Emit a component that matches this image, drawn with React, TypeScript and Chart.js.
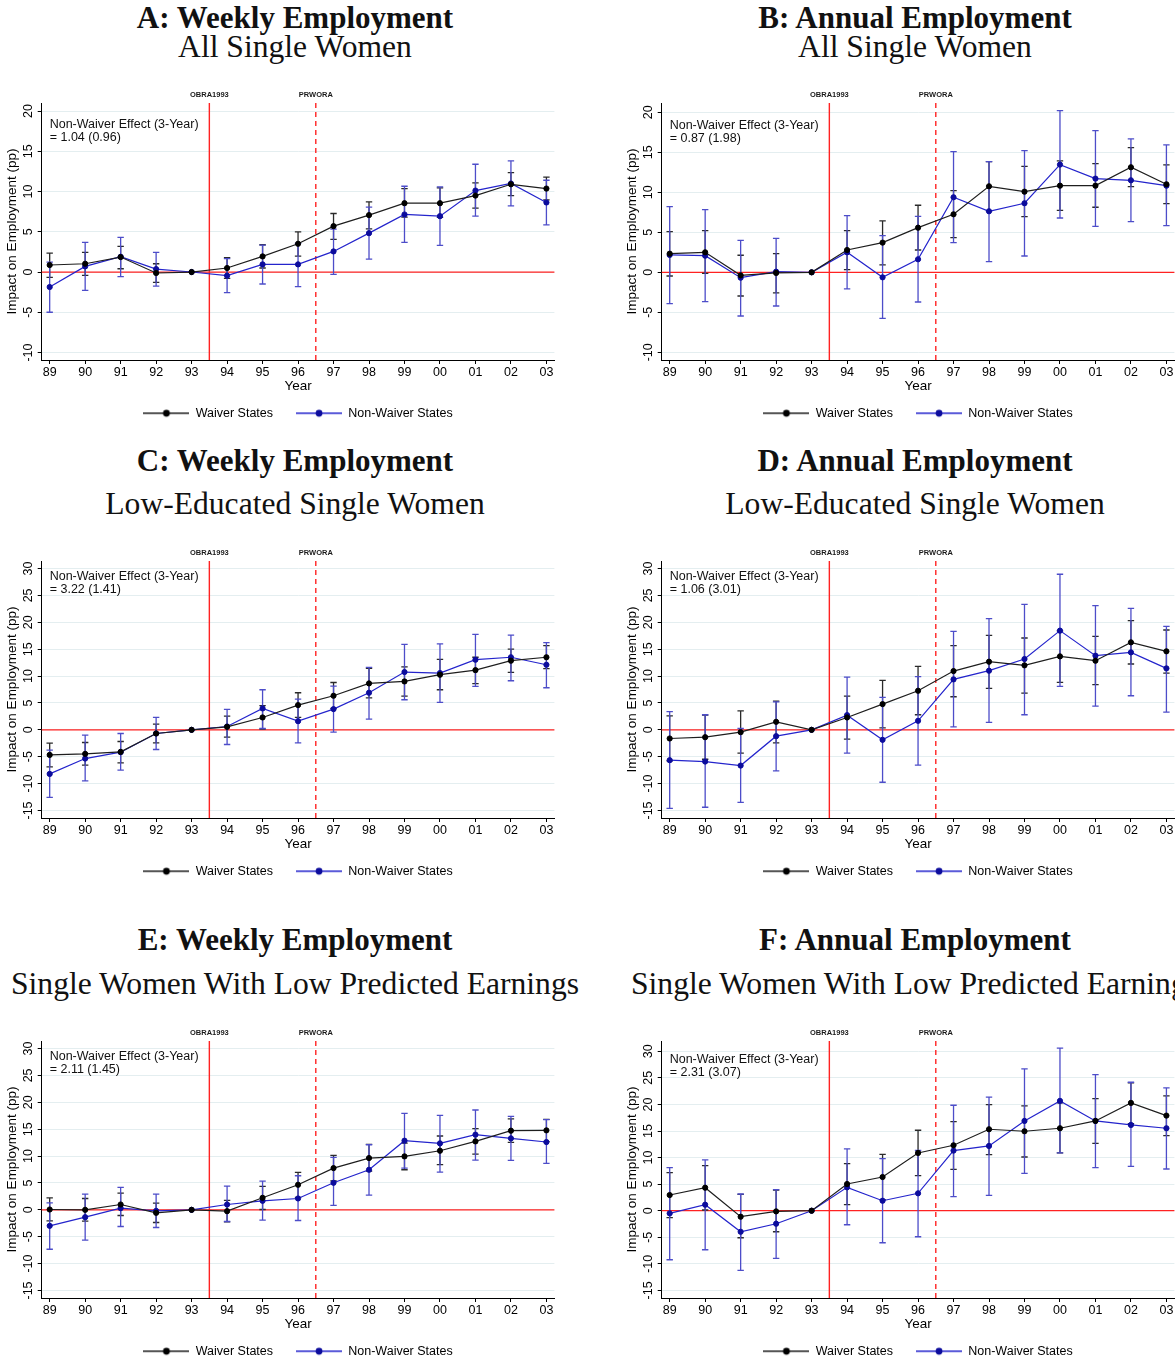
import React, { useEffect, useRef } from 'react';
import { Chart, registerables } from 'chart.js';

Chart.register(...registerables);

// ---------------- data ----------------
const years = ['89', '90', '91', '92', '93', '94', '95', '96', '97', '98', '99', '00', '01', '02', '03'];
const ticksAllWomen = [-10, -5, 0, 5, 10, 15, 20];
const ticksSubgroups = [-15, -10, -5, 0, 5, 10, 15, 20, 25, 30];
const policyNames = ['OBRA1993', 'PRWORA'];
const policyYears = [4.5, 7.5]; // 93.5 and 96.5 on the year index axis
const seriesNames = ['Waiver States', 'Non-Waiver States'];

// Panel A
const aWaiver = [0.87, 1.03, 1.86, -0.12, 0, 0.5, 1.94, 3.51, 5.7, 7.07, 8.55, 8.55, 9.5, 10.9, 10.37];
const aWaiverLo = [-0.66, -0.41, 0.41, -1.28, null, -0.78, 0.5, 1.98, 4.05, 5.37, 6.82, 6.78, 7.93, 9.5, 8.97];
const aWaiverHi = [2.36, 2.44, 3.18, 1.03, null, 1.78, 3.39, 5.0, 7.27, 8.72, 10.37, 10.45, 11.07, 12.36, 11.78];
const aNon = [-1.86, 0.7, 1.9, 0.37, 0, -0.45, 0.95, 0.95, 2.56, 4.83, 7.15, 6.94, 10.12, 11.0, 8.64];
const aNonLo = [-5.0, -2.27, -0.58, -1.74, null, -2.56, -1.49, -1.82, -0.29, 1.61, 3.68, 3.31, 6.94, 8.22, 5.87];
const aNonHi = [1.24, 3.68, 4.3, 2.44, null, 1.66, 3.35, 3.55, 5.33, 8.06, 10.66, 10.58, 13.39, 13.8, 11.4];

// Panel B
const bWaiver = [2.33, 2.5, -0.38, -0.08, 0, 2.79, 3.71, 5.58, 7.25, 10.75, 10.08, 10.83, 10.83, 13.13, 11.0];
const bWaiverLo = [-0.46, -0.13, -2.96, -2.58, null, 0.33, 0.92, 2.79, 4.33, 7.67, 6.96, 7.75, 8.13, 10.71, 8.58];
const bWaiverHi = [5.08, 5.2, 2.13, 2.33, null, 5.2, 6.42, 8.38, 10.2, 13.83, 13.25, 13.92, 13.58, 15.58, 13.42];
const bNon = [2.17, 2.08, -0.67, 0.08, 0, 2.5, -0.63, 1.63, 9.38, 7.63, 8.63, 13.46, 11.71, 11.5, 10.83];
const bNonLo = [-3.92, -3.67, -5.46, -4.21, null, -2.08, -5.75, -3.71, 3.71, 1.33, 2.04, 6.79, 5.75, 6.33, 5.83];
const bNonHi = [8.21, 7.83, 4.0, 4.25, null, 7.08, 4.58, 7.0, 15.08, 13.83, 15.21, 20.21, 17.71, 16.67, 15.92];

// Panel C
const cWaiver = [-4.66, -4.47, -4.1, -0.68, 0, 0.56, 2.3, 4.6, 6.34, 8.63, 9.0, 10.25, 11.1, 12.86, 13.5];
const cWaiverLo = [-6.9, -6.58, -6.15, -2.42, null, -1.37, 0.12, 2.3, 3.98, 5.96, 6.27, 7.45, 8.6, 10.7, 11.37];
const cWaiverHi = [-2.48, -2.36, -2.17, 1.06, null, 2.55, 4.5, 6.9, 8.8, 11.43, 11.7, 13.1, 13.5, 15.0, 15.65];
const cNon = [-8.2, -5.34, -4.16, -0.68, 0, 0.62, 3.98, 1.61, 3.85, 6.9, 10.75, 10.56, 13.04, 13.5, 12.1];
const cNonLo = [-12.55, -9.5, -7.5, -3.66, null, -2.73, 0.25, -2.42, -0.43, 1.99, 5.59, 5.09, 8.07, 9.13, 7.83];
const cNonHi = [-3.79, -1.0, -0.68, 2.3, null, 3.79, 7.45, 5.71, 8.14, 11.6, 15.9, 16.0, 17.76, 17.6, 16.2];

// Panel D
const dWaiver = [-1.61, -1.37, -0.43, 1.49, 0, 2.3, 4.78, 7.27, 10.93, 12.67, 11.99, 13.66, 12.86, 16.27, 14.6];
const dWaiverLo = [-5.78, -5.47, -4.35, -2.42, null, -1.74, 0.37, 2.8, 6.15, 7.7, 6.83, 8.82, 8.39, 12.24, 10.56];
const dWaiverHi = [2.6, 2.73, 3.54, 5.34, null, 6.27, 9.19, 11.8, 15.65, 17.58, 17.08, 18.4, 17.39, 20.3, 18.57];
const dNon = [-5.65, -5.9, -6.65, -1.18, 0, 2.73, -1.86, 1.68, 9.38, 11.0, 13.17, 18.45, 13.79, 14.41, 11.43];
const dNonLo = [-14.6, -14.4, -13.48, -7.64, null, -4.35, -9.75, -6.58, 0.56, 1.37, 2.8, 8.07, 4.41, 6.34, 3.29];
const dNonHi = [3.4, 2.8, 0.25, 5.2, null, 9.81, 6.02, 9.88, 18.3, 20.68, 23.35, 28.94, 23.1, 22.6, 19.25];

// Panel E
const eWaiver = [0.06, 0.0, 0.99, -0.56, 0, -0.25, 2.24, 4.66, 7.76, 9.63, 9.94, 10.99, 12.73, 14.72, 14.78];
const eWaiverLo = [-2.05, -2.11, -1.06, -2.36, null, -2.24, 0.06, 2.3, 5.4, 7.2, 7.45, 8.39, 10.37, 12.55, 12.67];
const eWaiverHi = [2.24, 2.11, 3.1, 1.24, null, 1.74, 4.35, 6.96, 10.12, 12.17, 12.42, 13.73, 15.1, 16.9, 16.83];
const eNon = [-2.98, -1.37, 0.31, -0.19, 0, 0.99, 1.68, 2.11, 5.03, 7.45, 12.86, 12.36, 13.98, 13.29, 12.61];
const eNonLo = [-7.33, -5.65, -3.1, -3.29, null, -2.17, -1.93, -1.99, 0.81, 2.73, 7.76, 7.02, 9.25, 9.19, 8.63];
const eNonHi = [1.3, 2.92, 4.16, 2.92, null, 4.41, 5.34, 6.34, 9.75, 12.1, 17.95, 17.58, 18.57, 17.39, 16.77];

// Panel F
const fWaiver = [2.95, 4.33, -1.13, -0.13, 0, 5.03, 6.34, 10.87, 12.31, 15.33, 14.95, 15.52, 16.9, 20.29, 17.9];
const fWaiverLo = [-1.32, 0.13, -5.09, -3.96, null, 1.13, 2.07, 6.6, 7.79, 10.55, 10.11, 10.87, 12.69, 16.39, 14.13];
const fWaiverHi = [7.16, 8.48, 3.08, 3.89, null, 8.86, 10.62, 15.14, 16.77, 19.97, 19.72, 20.3, 21.1, 24.06, 21.6];
const fNon = [-0.5, 1.13, -3.96, -2.45, 0, 4.4, 1.88, 3.27, 11.31, 12.19, 16.9, 20.67, 16.9, 16.14, 15.52];
const fNonLo = [-9.23, -7.35, -11.24, -8.98, null, -2.64, -6.03, -4.9, 2.64, 2.89, 7.04, 10.87, 8.1, 8.35, 7.85];
const fNonHi = [8.1, 9.55, 3.14, 3.96, null, 11.62, 9.8, 11.37, 19.85, 21.36, 26.7, 30.59, 25.63, 24.18, 23.12];

const panelTitles = ['A: Weekly Employment', 'B: Annual Employment', 'C: Weekly Employment', 'D: Annual Employment', 'E: Weekly Employment', 'F: Annual Employment'];
const panelSubtitles = ['All Single Women', 'All Single Women', 'Low-Educated Single Women', 'Low-Educated Single Women', 'Single Women With Low Predicted Earnings', 'Single Women With Low Predicted Earnings'];
const effectLabel = 'Non-Waiver Effect (3-Year)';
const effectValues = ['= 1.04 (0.96)', '= 0.87 (1.98)', '= 3.22 (1.41)', '= 1.06 (3.01)', '= 2.11 (1.45)', '= 2.31 (3.07)'];

// ---------------- styles / layout ----------------
const SANS = "'Liberation Sans', Arial, Helvetica, sans-serif";
const SERIF = "'Liberation Serif', 'Times New Roman', serif";
const RED = '#ff2222';
const BLACK_LINE = '#1e1e1e';
const BLACK_CI = '#2a2a2a';
const BLUE_LINE = '#2424cc';
const BLUE_DOT = '#0c0c9c';
const BLUE_CI = '#4d4dc9';
const GRID = '#e4eef0';

type Panel = {
  title: string;
  subtitle: string;
  effect: string;
  waiver: number[];
  waiverLo: (number | null)[];
  waiverHi: (number | null)[];
  non: number[];
  nonLo: (number | null)[];
  nonHi: (number | null)[];
  yTicks: number[];
  yMin: number;
  yMax: number;
  noteY: number;
  left: number;
  top: number;
  titleY: [number, number];
};

const panels: Panel[] = [
  { title: panelTitles[0], subtitle: panelSubtitles[0], effect: effectValues[0], waiver: aWaiver, waiverLo: aWaiverLo, waiverHi: aWaiverHi, non: aNon, nonLo: aNonLo, nonHi: aNonHi, yTicks: ticksAllWomen, yMin: -10.93, yMax: 21.0, noteY: 18.35, left: 0, top: 80, titleY: [18, 47] },
  { title: panelTitles[1], subtitle: panelSubtitles[1], effect: effectValues[1], waiver: bWaiver, waiverLo: bWaiverLo, waiverHi: bWaiverHi, non: bNon, nonLo: bNonLo, nonHi: bNonHi, yTicks: ticksAllWomen, yMin: -10.96, yMax: 21.16, noteY: 18.3, left: 620, top: 80, titleY: [18, 47] },
  { title: panelTitles[2], subtitle: panelSubtitles[2], effect: effectValues[2], waiver: cWaiver, waiverLo: cWaiverLo, waiverHi: cWaiverHi, non: cNon, nonLo: cNonLo, nonHi: cNonHi, yTicks: ticksSubgroups, yMin: -16.4, yMax: 31.4, noteY: 28.6, left: 0, top: 538, titleY: [461, 504] },
  { title: panelTitles[3], subtitle: panelSubtitles[3], effect: effectValues[3], waiver: dWaiver, waiverLo: dWaiverLo, waiverHi: dWaiverHi, non: dNon, nonLo: dNonLo, nonHi: dNonHi, yTicks: ticksSubgroups, yMin: -16.4, yMax: 31.4, noteY: 28.6, left: 620, top: 538, titleY: [461, 504] },
  { title: panelTitles[4], subtitle: panelSubtitles[4], effect: effectValues[4], waiver: eWaiver, waiverLo: eWaiverLo, waiverHi: eWaiverHi, non: eNon, nonLo: eNonLo, nonHi: eNonHi, yTicks: ticksSubgroups, yMin: -16.4, yMax: 31.4, noteY: 28.6, left: 0, top: 1018, titleY: [940, 984] },
  { title: panelTitles[5], subtitle: panelSubtitles[5], effect: effectValues[5], waiver: fWaiver, waiverLo: fWaiverLo, waiverHi: fWaiverHi, non: fNon, nonLo: fNonLo, nonHi: fNonHi, yTicks: ticksSubgroups, yMin: -16.43, yMax: 31.94, noteY: 28.5, left: 620, top: 1018, titleY: [940, 984] },
];

const CANVAS_W = 560;
const CANVAS_H = 350;

function makeSymbol(line: string, dot: string) {
  const c = document.createElement('canvas');
  c.width = 46;
  c.height = 10;
  const g = c.getContext('2d')!;
  g.strokeStyle = line;
  g.lineWidth = 1.3;
  g.beginPath();
  g.moveTo(0, 5);
  g.lineTo(46, 5);
  g.stroke();
  g.fillStyle = dot;
  g.beginPath();
  g.arc(23, 5, 3.4, 0, Math.PI * 2);
  g.fill();
  return c;
}

function makeOverlay(p: Panel) {
  return {
    id: 'stataOverlay',
    beforeDatasetsDraw(chart: any) {
      const { ctx, chartArea: a, scales } = chart;
      const x = scales.x;
      const y = scales.y;
      ctx.save();
      // zero reference line
      ctx.strokeStyle = RED;
      ctx.lineWidth = 1.2;
      const y0 = y.getPixelForValue(0);
      ctx.beginPath();
      ctx.moveTo(a.left, y0);
      ctx.lineTo(a.right, y0);
      ctx.stroke();
      // policy lines
      policyYears.forEach((pos, i) => {
        const px = x.getPixelForValue(pos);
        ctx.setLineDash(i === 1 ? [5, 4] : []);
        ctx.lineWidth = 1.4;
        ctx.beginPath();
        ctx.moveTo(px, a.top);
        ctx.lineTo(px, a.bottom);
        ctx.stroke();
      });
      ctx.setLineDash([]);
      // confidence intervals
      const drawCI = (lo: (number | null)[], hi: (number | null)[], color: string) => {
        ctx.strokeStyle = color;
        ctx.lineWidth = 1.3;
        lo.forEach((l, i) => {
          const h = hi[i];
          if (l == null || h == null) return;
          const px = x.getPixelForValue(i);
          const pl = y.getPixelForValue(l);
          const ph = y.getPixelForValue(h);
          ctx.beginPath();
          ctx.moveTo(px, pl);
          ctx.lineTo(px, ph);
          ctx.moveTo(px - 3.2, pl);
          ctx.lineTo(px + 3.2, pl);
          ctx.moveTo(px - 3.2, ph);
          ctx.lineTo(px + 3.2, ph);
          ctx.stroke();
        });
      };
      drawCI(p.waiverLo, p.waiverHi, BLACK_CI);
      drawCI(p.nonLo, p.nonHi, BLUE_CI);
      ctx.restore();
    },
    afterDraw(chart: any) {
      const { ctx, chartArea: a, scales } = chart;
      const x = scales.x;
      const y = scales.y;
      ctx.save();
      ctx.fillStyle = '#1a1a1a';
      ctx.font = `bold 7.5px ${SANS}`;
      ctx.textAlign = 'center';
      ctx.textBaseline = 'middle';
      policyYears.forEach((pos, i) => {
        ctx.fillText(policyNames[i], x.getPixelForValue(pos), a.top - 8);
      });
      ctx.font = `12.5px ${SANS}`;
      ctx.textAlign = 'left';
      ctx.fillStyle = '#111';
      const nx = x.getPixelForValue(0);
      const ny = y.getPixelForValue(p.noteY);
      ctx.fillText(effectLabel, nx, ny);
      ctx.fillText(p.effect, nx, ny + 13);
      ctx.restore();
    },
  };
}

function PanelChart({ p }: { p: Panel }) {
  const ref = useRef<HTMLCanvasElement | null>(null);
  useEffect(() => {
    if (!ref.current) return;
    const symbols = [makeSymbol(BLACK_LINE, '#000'), makeSymbol(BLUE_LINE, BLUE_DOT)];
    const chart = new Chart(ref.current, {
      type: 'line',
      data: {
        datasets: [
          {
            label: seriesNames[0],
            data: p.waiver.map((v, i) => ({ x: i, y: v })),
            borderColor: BLACK_LINE,
            backgroundColor: '#000',
            borderWidth: 1.2,
            pointRadius: 2.6,
            pointBorderWidth: 1,
            pointBackgroundColor: '#000',
            pointBorderColor: '#000',
            tension: 0,
          },
          {
            label: seriesNames[1],
            data: p.non.map((v, i) => ({ x: i, y: v })),
            borderColor: BLUE_LINE,
            backgroundColor: BLUE_DOT,
            borderWidth: 1.2,
            pointRadius: 2.6,
            pointBorderWidth: 1,
            pointBackgroundColor: BLUE_DOT,
            pointBorderColor: BLUE_DOT,
            tension: 0,
          },
        ],
      },
      options: {
        animation: false,
        responsive: false,
        devicePixelRatio: 1,
        events: [],
        layout: { padding: { left: 4.4, right: 5.6, top: 23, bottom: 0.5 } },
        scales: {
          x: {
            type: 'linear',
            min: -0.225,
            max: 14.225,
            afterBuildTicks: (s: any) => {
              s.ticks = years.map((_, i) => ({ value: i }));
            },
            afterFit: (s: any) => {
              s.height = 24;
            },
            ticks: {
              autoSkip: false,
              maxRotation: 0,
              minRotation: 0,
              padding: 1.5,
              color: '#000',
              font: { family: SANS, size: 12.5 },
              callback: (v: any) => years[v as number],
            },
            grid: { drawOnChartArea: false, drawTicks: true, tickLength: 4, tickColor: '#000', tickWidth: 1 },
            border: { display: true, color: '#000', width: 1 },
            title: {
              display: true,
              text: 'Year',
              color: '#000',
              font: { family: SANS, size: 13.5 },
              padding: { top: 0, bottom: -10 },
            },
          },
          y: {
            type: 'linear',
            min: p.yMin,
            max: p.yMax,
            afterBuildTicks: (s: any) => {
              s.ticks = p.yTicks.map((v) => ({ value: v }));
            },
            afterFit: (s: any) => {
              s.width = 37.3;
            },
            ticks: {
              autoSkip: false,
              minRotation: 90,
              maxRotation: 90,
              crossAlign: 'center',
              padding: 0,
              color: '#000',
              font: { family: SANS, size: 12.5, lineHeight: 1 },
            },
            grid: { color: GRID, lineWidth: 1, drawTicks: true, tickLength: 4, tickColor: '#000', tickWidth: 1 },
            border: { display: true, color: '#000', width: 1 },
            title: {
              display: true,
              text: 'Impact on Employment (pp)',
              color: '#000',
              font: { family: SANS, size: 13.5 },
              padding: { top: 0, bottom: 0 },
            },
          },
        },
        plugins: {
          legend: {
            display: true,
            position: 'bottom',
            fullSize: false,
            labels: {
              usePointStyle: true,
              pointStyleWidth: 46,
              padding: 23,
              color: '#000',
              font: { family: SANS, size: 12.5 },
              generateLabels: (ch: any) =>
                ch.data.datasets.map((ds: any, i: number) => ({
                  text: ds.label,
                  pointStyle: symbols[i],
                  fillStyle: 'transparent',
                  strokeStyle: 'transparent',
                  lineWidth: 0,
                  hidden: false,
                  datasetIndex: i,
                  fontColor: '#000',
                })),
            },
          },
          tooltip: { enabled: false },
        },
      } as any,
      plugins: [makeOverlay(p)],
    });
    return () => chart.destroy();
  }, [p]);
  return (
    <canvas
      ref={ref}
      width={CANVAS_W}
      height={CANVAS_H}
      style={{ position: 'absolute', left: p.left, top: p.top, width: CANVAS_W, height: CANVAS_H }}
    />
  );
}

function TitleLine({ text, center, y, bold }: { text: string; center: number; y: number; bold: boolean }) {
  return (
    <div
      style={{
        position: 'absolute',
        left: center - 500,
        width: 1000,
        top: y - 17,
        height: 34,
        lineHeight: '34px',
        textAlign: 'center',
        whiteSpace: 'nowrap',
        fontFamily: SERIF,
        fontSize: bold ? 31 : 31.6,
        fontWeight: bold ? 700 : 400,
        color: '#111',
      }}
    >
      {text}
    </div>
  );
}

export default function App() {
  return (
    <div
      style={{
        position: 'absolute',
        left: 0,
        top: 0,
        width: 1175,
        height: 1362,
        overflow: 'hidden',
        background: '#fff',
      }}
    >
      {panels.map((p, i) => (
        <React.Fragment key={i}>
          <TitleLine text={p.title} center={p.left + 295} y={p.titleY[0]} bold />
          <TitleLine text={p.subtitle} center={p.left + 295} y={p.titleY[1]} bold={false} />
          <PanelChart p={p} />
        </React.Fragment>
      ))}
    </div>
  );
}
